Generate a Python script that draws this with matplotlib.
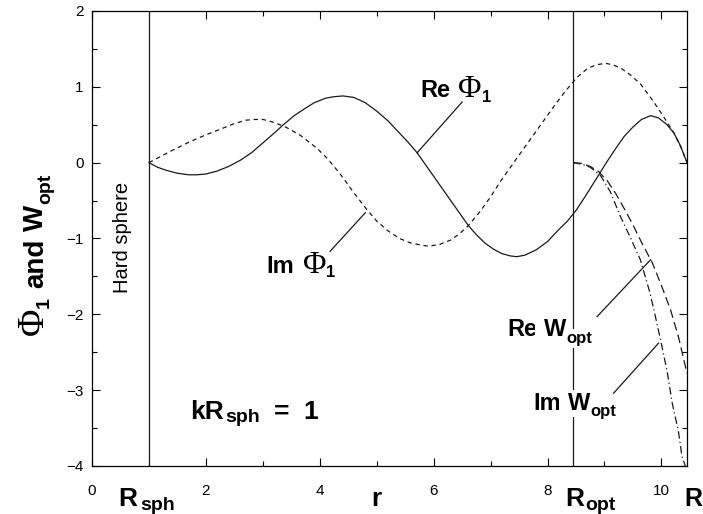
import matplotlib
matplotlib.use("Agg")
import matplotlib.pyplot as plt
from matplotlib.ticker import MultipleLocator

plt.rcParams["font.family"] = ["Liberation Sans", "DejaVu Sans"]

# radii
r_sph = 1.0
r_opt = 8.45
r_max = 10.45

# Re Phi_1 (solid)
re_phi_r = [1.0, 1.15, 1.3, 1.5, 1.7, 1.84, 2.0, 2.2, 2.4, 2.6, 2.8, 3.0, 3.2, 3.36, 3.55,
            3.71, 3.9, 4.1, 4.25, 4.41, 4.6, 4.8, 5.0, 5.2, 5.4, 5.55, 5.71, 5.85, 6.0,
            6.15, 6.3, 6.45, 6.61, 6.75, 6.9, 7.05, 7.2, 7.35, 7.46, 7.6, 7.8, 8.0, 8.2,
            8.35, 8.51, 8.7, 8.9, 9.05, 9.2, 9.35, 9.5, 9.65, 9.81, 9.95, 10.1, 10.22,
            10.33, 10.45]
re_phi_v = [0.0, -0.06, -0.10, -0.14, -0.16, -0.16, -0.15, -0.11, -0.05, 0.03, 0.13, 0.26, 0.39, 0.50, 0.62,
            0.70, 0.79, 0.85, 0.87, 0.88, 0.86, 0.79, 0.68, 0.55, 0.39, 0.27, 0.13, -0.02, -0.18,
            -0.34, -0.50, -0.66, -0.83, -0.95, -1.06, -1.14, -1.20, -1.23, -1.24, -1.22, -1.15, -1.04, -0.88,
            -0.77, -0.62, -0.40, -0.16, 0.02, 0.19, 0.35, 0.47, 0.57, 0.62, 0.59, 0.50, 0.39,
            0.23, 0.0]

# Im Phi_1 (short dashes)
im_phi_r = [1.0, 1.2, 1.43, 1.7, 2.01, 2.25, 2.48, 2.7, 2.86, 3.0, 3.2, 3.4, 3.66, 3.95, 4.1,
            4.24, 4.4, 4.6, 4.83, 5.0, 5.2, 5.4, 5.6, 5.8, 5.91, 6.1, 6.3, 6.45, 6.61, 6.82,
            7.0, 7.17, 7.35, 7.5, 7.7, 7.9, 8.1, 8.3, 8.51, 8.7, 8.85, 9.02, 9.15, 9.3, 9.45,
            9.63, 9.8, 9.92, 10.07, 10.22, 10.35, 10.45]
im_phi_v = [0.0, 0.08, 0.17, 0.27, 0.37, 0.44, 0.51, 0.56, 0.57, 0.57, 0.53, 0.47, 0.36, 0.19, 0.08,
            -0.04, -0.19, -0.40, -0.62, -0.77, -0.90, -1.00, -1.06, -1.09, -1.10, -1.08, -1.02, -0.94, -0.83, -0.64,
            -0.45, -0.25, -0.06, 0.10, 0.31, 0.52, 0.73, 0.93, 1.12, 1.24, 1.29, 1.31, 1.29, 1.24, 1.16,
            1.04, 0.87, 0.74, 0.57, 0.39, 0.19, 0.0]

# Re W_opt (long dashes)
re_w_r = [8.45, 8.6, 8.75, 8.9, 9.05, 9.2, 9.35, 9.5, 9.65, 9.84, 10.0, 10.16, 10.3, 10.45]
re_w_v = [0.0, -0.01, -0.05, -0.12, -0.24, -0.41, -0.61, -0.82, -1.05, -1.32, -1.62, -1.94, -2.30, -2.78]

# Im W_opt (dash-dot)
im_w_r = [8.45, 8.6, 8.75, 8.93, 9.1, 9.28, 9.45, 9.63, 9.8, 9.9, 9.98, 10.1, 10.19, 10.3, 10.36, 10.42]
im_w_v = [0.0, -0.02, -0.06, -0.17, -0.38, -0.71, -0.98, -1.28, -1.72, -2.05, -2.32, -2.75, -3.17, -3.55, -3.87, -4.0]

xticks = [0, 2, 4, 6, 8, 10]
yticks = [-4, -3, -2, -1, 0, 1, 2]

fig = plt.figure(figsize=(7.03, 5.14), dpi=100)
ax = fig.add_axes([0.1309, 0.0934, 0.8464, 0.8852])
renderer = fig.canvas.get_renderer()

SANS = "Liberation Sans"
SERIF = "Liberation Serif"


def compound(x, y, parts, coords="data", rot=0, **extra):
    """Lay text pieces one after another; a number in parts is a gap in points."""
    adv = 0.0
    for p in parts:
        if not isinstance(p, tuple):
            adv += p
            continue
        s, size, dy, fam = p
        off = (-dy, adv) if rot else (adv, dy)
        t = ax.annotate(s, xy=(x, y), xycoords=coords, xytext=off,
                        textcoords="offset points", fontsize=size, family=fam,
                        fontweight="bold" if fam == SANS else "normal",
                        ha="left", va="baseline", rotation=rot,
                        rotation_mode="anchor", annotation_clip=False, **extra)
        bb = t.get_window_extent(renderer)
        adv += (bb.height if rot else bb.width) * 72 / fig.dpi


lc = "#1a1a1a"
ax.plot(re_phi_r, re_phi_v, color=lc, lw=0.9)
ax.plot(im_phi_r, im_phi_v, color=lc, lw=0.9, dashes=(3.5, 3))
ax.plot(re_w_r, re_w_v, color=lc, lw=0.9, dashes=(7, 3.5))
ax.plot(im_w_r, im_w_v, color=lc, lw=0.9, dashes=(6, 2.5, 1, 2.5))

ax.axvline(r_sph, color=lc, lw=0.9)
ax.axvline(r_opt, color=lc, lw=0.9)

ax.set_xlim(0, r_max)
ax.set_ylim(-4, 2)
ax.set_xticks(xticks)
ax.set_yticks(yticks)
ax.xaxis.set_minor_locator(MultipleLocator(1))
ax.yaxis.set_minor_locator(MultipleLocator(0.5))
ax.tick_params(which="both", direction="in", top=True, right=True, width=0.8)
ax.tick_params(which="major", length=6, labelsize=11)
ax.tick_params(which="minor", length=3.5)
ax.tick_params(axis="x", pad=13)
ax.tick_params(axis="y", pad=6)
for s in ax.spines.values():
    s.set_linewidth(0.9)

# curve labels with leader lines
compound(5.76, 0.86, [("Re", 17, 0, SANS), 6, ("\u03a6", 23, 0, SERIF), ("1", 12, -3.5, SANS)])
ax.plot([5.71, 6.50], [0.13, 0.80], color=lc, lw=0.9)
compound(3.07, -1.45, [("Im", 17, 0, SANS), 6, ("\u03a6", 23, 0, SERIF), ("1", 12, -3.5, SANS)])
ax.plot([4.18, 4.80], [-1.17, -0.66], color=lc, lw=0.9)
wb = dict(bbox=dict(facecolor="white", edgecolor="none", pad=1.5), zorder=5)
compound(7.29, -2.29, [("Re", 17, 0, SANS), (" ", 17, 0, SANS), ("W", 17, 0, SANS),
                       ("opt", 12, -4.5, SANS)], **wb)
ax.plot([8.87, 9.81], [-2.03, -1.28], color=lc, lw=0.9)
compound(7.75, -3.26, [("Im", 17, 0, SANS), (" ", 17, 0, SANS), ("W", 17, 0, SANS),
                       ("opt", 12, -4.5, SANS)], **wb)
ax.plot([9.16, 9.95], [-3.04, -2.38], color=lc, lw=0.9)

compound(1.72, -3.38, [("kR", 19, 0, SANS), 1, ("sph", 14, -2.5, SANS), 10,
                       ("=", 19, 0, SANS), 10, ("1", 19, 0, SANS)])
ax.text(0.53, -0.99, "Hard sphere", rotation=90, fontsize=14.5,
        ha="center", va="center")

# labels under the x axis
xt = ax.get_xaxis_transform()
yb = -0.088
compound(0.46, yb, [("R", 19, 0, SANS), 2, ("sph", 14, -3, SANS)], coords=xt)
compound(4.90, yb, [("r", 19, 0, SANS)], coords=xt)
compound(8.31, yb, [("R", 19, 0, SANS), 1, ("opt", 14, -3, SANS)], coords=xt)
compound(10.40, yb, [("R", 18, 0, SANS)], coords=xt)

# y-axis title, rotated
compound(43 / 703, 1 - 335 / 514,
         [("\u03a6", 27, 0, SERIF), ("1", 14, -4, SANS), 6, ("and", 20, 0, SANS), 6,
          ("W", 20, 0, SANS), ("opt", 14, -5, SANS)],
         coords="figure fraction", rot=90)

fig.savefig("out.png", dpi=100)
